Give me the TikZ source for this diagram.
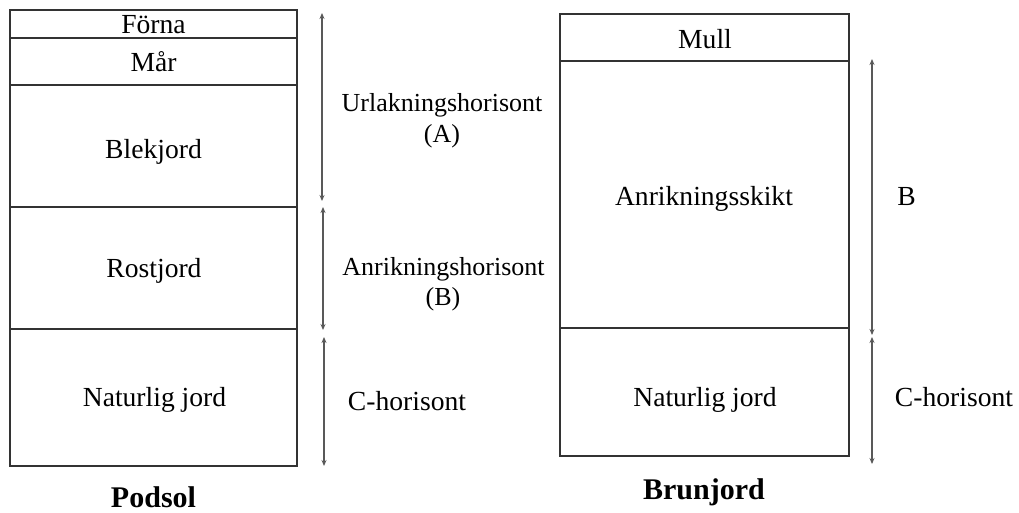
\documentclass[tikz,border=0pt]{standalone}
\usepackage{fontspec}
\setmainfont{Liberation Serif}
\usetikzlibrary{arrows.meta}
\begin{document}
\begin{tikzpicture}[x=1pt,y=-1pt,
  layer/.style={draw=black!80,line width=1.4pt,inner sep=0pt,minimum width=#1},
  txt/.style={anchor=base,inner sep=0pt,font=\fontsize{27.6}{31}\selectfont},
  side/.style={anchor=base,inner sep=0pt,font=\fontsize{26}{31}\selectfont},
  ttl/.style={anchor=base,inner sep=0pt,font=\fontsize{30}{34}\selectfont\bfseries},
  dim/.style={draw=black!65,line width=1.2pt,{Stealth[length=6pt,width=5pt]}-{Stealth[length=6pt,width=5pt]}}]
\useasboundingbox (0,0) rectangle (1019,512);
% Podsol layers
\node[layer=287pt,minimum height=28pt] (forna) at (153.5,24) {};
\node[layer=287pt,minimum height=47pt] (mar) at (153.5,61.5) {};
\node[layer=287pt,minimum height=122pt] (blek) at (153.5,146) {};
\node[layer=287pt,minimum height=122pt] (rost) at (153.5,268) {};
\node[layer=287pt,minimum height=137pt] (nat1) at (153.5,397.5) {};
\node[txt] (tforna) at (153.5,33) {Förna};
\node[txt] (tmar) at (153.5,71) {Mår};
\node[txt] (tblek) at (153.5,158) {Blekjord};
\node[txt] (trost) at (154,277) {Rostjord};
\node[txt] (tnat1) at (154.5,406) {Naturlig jord};
\node[ttl] (podsol) at (153.5,507) {Podsol};
% Brunjord layers
\node[layer=289pt,minimum height=47pt] (mull) at (704.5,37.5) {};
\node[layer=289pt,minimum height=267pt] (anr) at (704.5,194.5) {};
\node[layer=289pt,minimum height=128pt] (nat2) at (704.5,392) {};
\node[txt] (tmull) at (705,48) {Mull};
\node[txt] (tanr) at (704,205) {Anrikningsskikt};
\node[txt] (tnat2) at (705,406) {Naturlig jord};
\node[ttl] (brun) at (704,499) {Brunjord};
% dimension arrows left
\coordinate (a1t) at (322,13); \coordinate (a1b) at (322,201);
\coordinate (a2t) at (323,207); \coordinate (a2b) at (323,330);
\coordinate (a3t) at (324,337); \coordinate (a3b) at (324,466);
\draw[dim] (a1t) -- (a1b);
\draw[dim] (a2t) -- (a2b);
\draw[dim] (a3t) -- (a3b);
% dimension arrows right
\coordinate (b1t) at (872,59); \coordinate (b1b) at (872,335);
\coordinate (b2t) at (872,337); \coordinate (b2b) at (872,464);
\draw[dim] (b1t) -- (b1b);
\draw[dim] (b2t) -- (b2b);
% labels
\node[side] (urlak) at (442,111) {Urlakningshorisont};
\node[side] (urlakA) at (442,142) {(A)};
\node[side] (anrh) at (443.5,275) {Anrikningshorisont};
\node[side] (anrhB) at (443,305) {(B)};
\node[txt] (ch1) at (407,410) {C-horisont};
\node[txt] (bl) at (906.5,205) {B};
\node[txt] (ch2) at (954,406) {C-horisont};
\end{tikzpicture}
\end{document}
